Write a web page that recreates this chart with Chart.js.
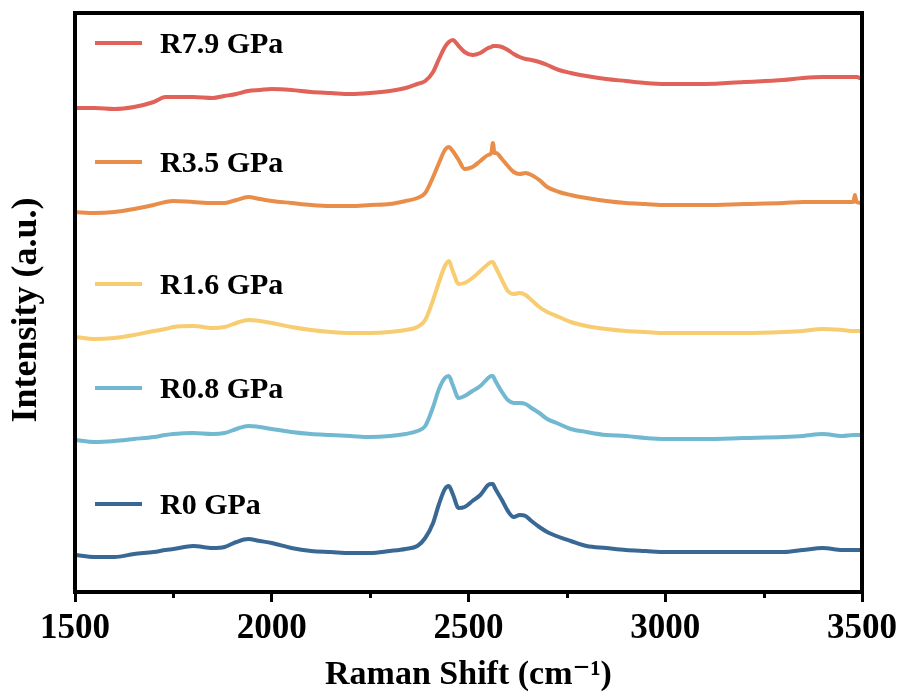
<!DOCTYPE html>
<html>
<head>
<meta charset="utf-8">
<title>Raman spectra</title>
<script src="https://cdn.jsdelivr.net/npm/chart.js@4.4.1/dist/chart.umd.min.js"></script>
<style>
  html, body { margin: 0; padding: 0; background: #ffffff; }
  canvas { display: block; }
</style>
</head>
<body>
<canvas id="chart" width="903" height="698"></canvas>
<script>
// Raman shift (cm^-1) sampling positions shared by every spectrum
const shift = [1500,1550,1600,1650,1700,1730,1750,1800,1850,1880,1910,1940,1970,2000,2050,2100,2150,2200,2250,2300,
  2340,2370,2390,2410,2425,2440,2450,2460,2475,2490,2510,2530,2550,2558,2562,2566,2570,2585,2600,2615,
  2630,2645,2660,2680,2700,2730,2760,2800,2850,2900,2950,3000,3100,3200,3300,3350,3400,3450,3478,3482,3486,3500];

// Intensities (a.u., vertically stacked spectra)
const r0 = [37,35,35,38,40,42,43,46,44,45,50,53,51,49,44,41,40,39,39,41,
  43,46,54,69,88,103,106,98,84,85,91,97,107,108,108,105,102,92,81,75,
  77,76,71,65,60,55,51,46,44,42,41,40,40,40,40,42,44,42,42,42,42,42];
const r08 = [152,150,151,153,155,157,158,159,158,159,163,166,165,163,160,158,157,156,155,156,
  158,161,166,185,203,214,216,207,194,196,201,206,214,216,216,213,210,200,192,189,
  189,188,184,179,173,168,163,160,157,156,154,153,153,154,155,156,158,156,157,157,157,157];
const r16 = [255,253,254,257,261,263,265,266,264,265,269,272,271,269,265,262,260,259,259,260,
  262,265,272,292,310,326,331,321,308,309,314,321,328,330,330,327,324,312,301,298,
  299,297,292,285,280,275,270,266,263,261,260,259,259,259,260,261,263,262,261,261,261,261];
const r35 = [380,379,380,383,387,390,391,390,389,389,392,395,393,391,389,387,386,386,387,388,
  391,394,399,415,429,442,445,441,432,423,425,431,437,439,449,439,439,433,426,420,
  418,419,417,412,405,400,397,394,391,389,388,387,387,388,389,390,390,390,390,397,390,389];
const r79 = [484,484,483,485,490,495,495,495,494,496,498,501,502,503,502,500,499,498,499,501,
  504,508,511,520,533,545,550,552,546,540,537,539,544,545,546,546,546,545,542,538,
  535,533,532,530,527,522,519,516,513,511,509,508,508,510,512,514,515,515,515,515,515,513];

const seriesNames = ['R0 GPa', 'R0.8 GPa', 'R1.6 GPa', 'R3.5 GPa', 'R7.9 GPa'];
const seriesValues = [r0, r08, r16, r35, r79];
const seriesColors = ['#3a6894', '#72b8d0', '#f8cc70', '#e88e4a', '#e06258'];

const majorTicks = [1500, 2000, 2500, 3000, 3500];
const minorTicks = [1750, 2250, 2750, 3250];

const serif = '"Liberation Serif", "Times New Roman", "DejaVu Serif", serif';

// Black frame round the plot, short minor ticks, and the rotated y title
const framePlugin = {
  id: 'frame',
  afterDraw(chart, args, opts) {
    const { ctx, chartArea: a, scales } = chart;
    ctx.save();
    ctx.strokeStyle = '#000';
    ctx.lineWidth = 3;
    minorTicks.forEach(v => {
      const px = Math.round(scales.x.getPixelForValue(v)) + 0.5;
      ctx.beginPath();
      ctx.moveTo(px, a.bottom);
      ctx.lineTo(px, a.bottom + 6);
      ctx.stroke();
    });
    ctx.lineWidth = 4;
    ctx.strokeRect(a.left, a.top, a.right - a.left, a.bottom - a.top);

    // y axis title, rotated to read upwards
    ctx.translate(opts.yTitleX, opts.yTitleY);
    ctx.rotate(-Math.PI / 2);
    ctx.fillStyle = '#000';
    ctx.font = 'bold ' + opts.yTitleSize + 'px ' + serif;
    ctx.textAlign = 'center';
    ctx.textBaseline = 'middle';
    ctx.fillText(opts.yTitle, 0, 0);
    ctx.restore();
  }
};

// Legend entries placed next to their own spectrum
const inlineLegend = {
  id: 'inlineLegend',
  afterDatasetsDraw(chart, args, opts) {
    const { ctx } = chart;
    ctx.save();
    chart.data.datasets.forEach((ds, i) => {
      const y = opts.rows[i];
      ctx.strokeStyle = ds.borderColor;
      ctx.lineWidth = 4;
      ctx.beginPath();
      ctx.moveTo(opts.lineStart, y);
      ctx.lineTo(opts.lineEnd, y);
      ctx.stroke();
      ctx.fillStyle = '#000';
      ctx.font = 'bold ' + opts.size + 'px ' + serif;
      ctx.textBaseline = 'alphabetic';
      ctx.textAlign = 'left';
      ctx.fillText(ds.label, opts.textStart, y + opts.size * 0.33);
    });
    ctx.restore();
  }
};

new Chart(document.getElementById('chart'), {
  type: 'line',
  data: {
    datasets: seriesNames.map((name, i) => ({
      label: name,
      data: shift.map((x, j) => ({ x: x, y: seriesValues[i][j] })),
      borderColor: seriesColors[i],
      backgroundColor: seriesColors[i],
      borderWidth: 4,
      pointRadius: 0,
      cubicInterpolationMode: 'monotone',
      fill: false
    }))
  },
  options: {
    responsive: false,
    animation: false,
    devicePixelRatio: 1,
    layout: { padding: { top: 13, right: 41, left: 0, bottom: 0 } },
    plugins: {
      legend: { display: false },
      tooltip: { enabled: false },
      inlineLegend: {
        rows: [504, 388, 284, 162, 43],
        lineStart: 95, lineEnd: 142, textStart: 160, size: 30
      },
      frame: {
        yTitle: 'Intensity (a.u.)',
        yTitleX: 27, yTitleY: 310, yTitleSize: 36
      }
    },
    scales: {
      x: {
        type: 'linear',
        min: 1500,
        max: 3500,
        afterBuildTicks: s => { s.ticks = majorTicks.map(v => ({ value: v })); },
        afterFit: s => { s.height = 106; },
        ticks: {
          color: '#000',
          font: { family: serif, size: 35, weight: 'bold' },
          padding: 6,
          maxRotation: 0,
          autoSkip: false,
          callback: v => String(v)
        },
        grid: {
          display: true,
          drawOnChartArea: false,
          drawTicks: true,
          tickLength: 10,
          tickWidth: 3,
          tickColor: '#000'
        },
        border: { display: false },
        title: {
          display: true,
          text: 'Raman Shift (cm\u207B\u00B9)',
          color: '#000',
          font: { family: serif, size: 34, weight: 'bold' },
          padding: { top: 0, bottom: 2 }
        }
      },
      y: {
        min: 0,
        max: 579,
        afterFit: s => { s.width = 75; },
        ticks: { display: false },
        grid: { display: false, drawTicks: false },
        border: { display: false },
        title: { display: false }
      }
    }
  },
  plugins: [framePlugin, inlineLegend]
});
</script>
</body>
</html>
